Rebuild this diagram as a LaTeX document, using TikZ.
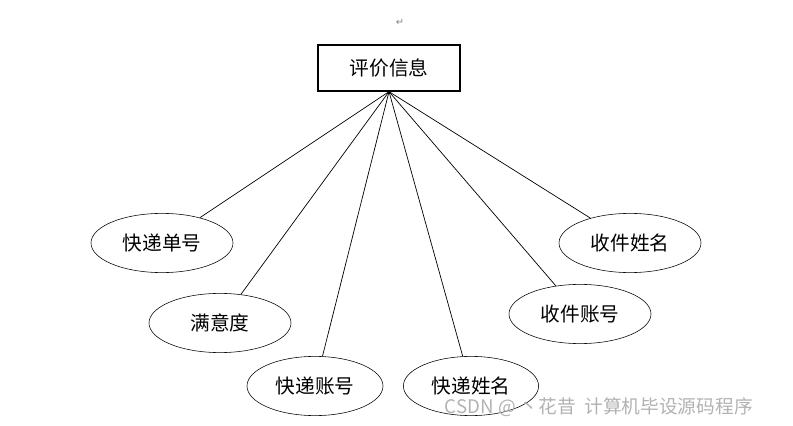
\documentclass[tikz,border=0pt]{standalone}
\usepackage{fontspec}
\setmainfont{Noto Sans CJK SC}
\newfontfamily\symfont{DejaVu Sans}
\usetikzlibrary{shapes.geometric}
\begin{document}
\begin{tikzpicture}[
    entity/.style={draw, line width=0.9pt, minimum width=3.55cm, minimum height=1.15cm,
                   inner sep=0pt, font=\fontsize{14pt}{16pt}\selectfont},
    attr/.style={draw, ellipse, minimum width=3.55cm, minimum height=1.48cm,
                 inner sep=0pt, font=\fontsize{14pt}{16pt}\selectfont},
    link/.style={draw, line width=0.5pt},
  ]
  \useasboundingbox (0,0) rectangle (19.825,10.65);
  \node[entity] (info) at (9.725,8.95) {评价信息};
  \node[attr] (danhao)  at (4.05,4.575)  {快递单号};
  \node[attr] (manyi)   at (5.5,2.575)   {满意度};
  \node[attr, minimum width=3.4cm] (kdzh) at (7.875,1.0) {快递账号};
  \node[attr, minimum width=3.38cm] (kdxm) at (11.775,1.0) {快递姓名};
  \node[attr] (sjzh)    at (14.5,2.8)    {收件账号};
  \node[attr] (sjxm)    at (15.75,4.575) {收件姓名};
  \foreach \a in {danhao, manyi, kdzh, kdxm, sjzh, sjxm}
    \draw[link] (info.south) -- (\a);
  % paragraph mark and watermark
  \node[text=gray, font=\symfont\fontsize{7pt}{8pt}\selectfont] (mark) at (10.0,10.1) {↵};
  \node[text=gray!60, font=\fontsize{13.3pt}{15pt}\selectfont, anchor=west] (wm) at (11.0,0.475)
    {CSDN @ 丶花昔\ \ 计算机毕设源码程序};
\end{tikzpicture}
\end{document}
